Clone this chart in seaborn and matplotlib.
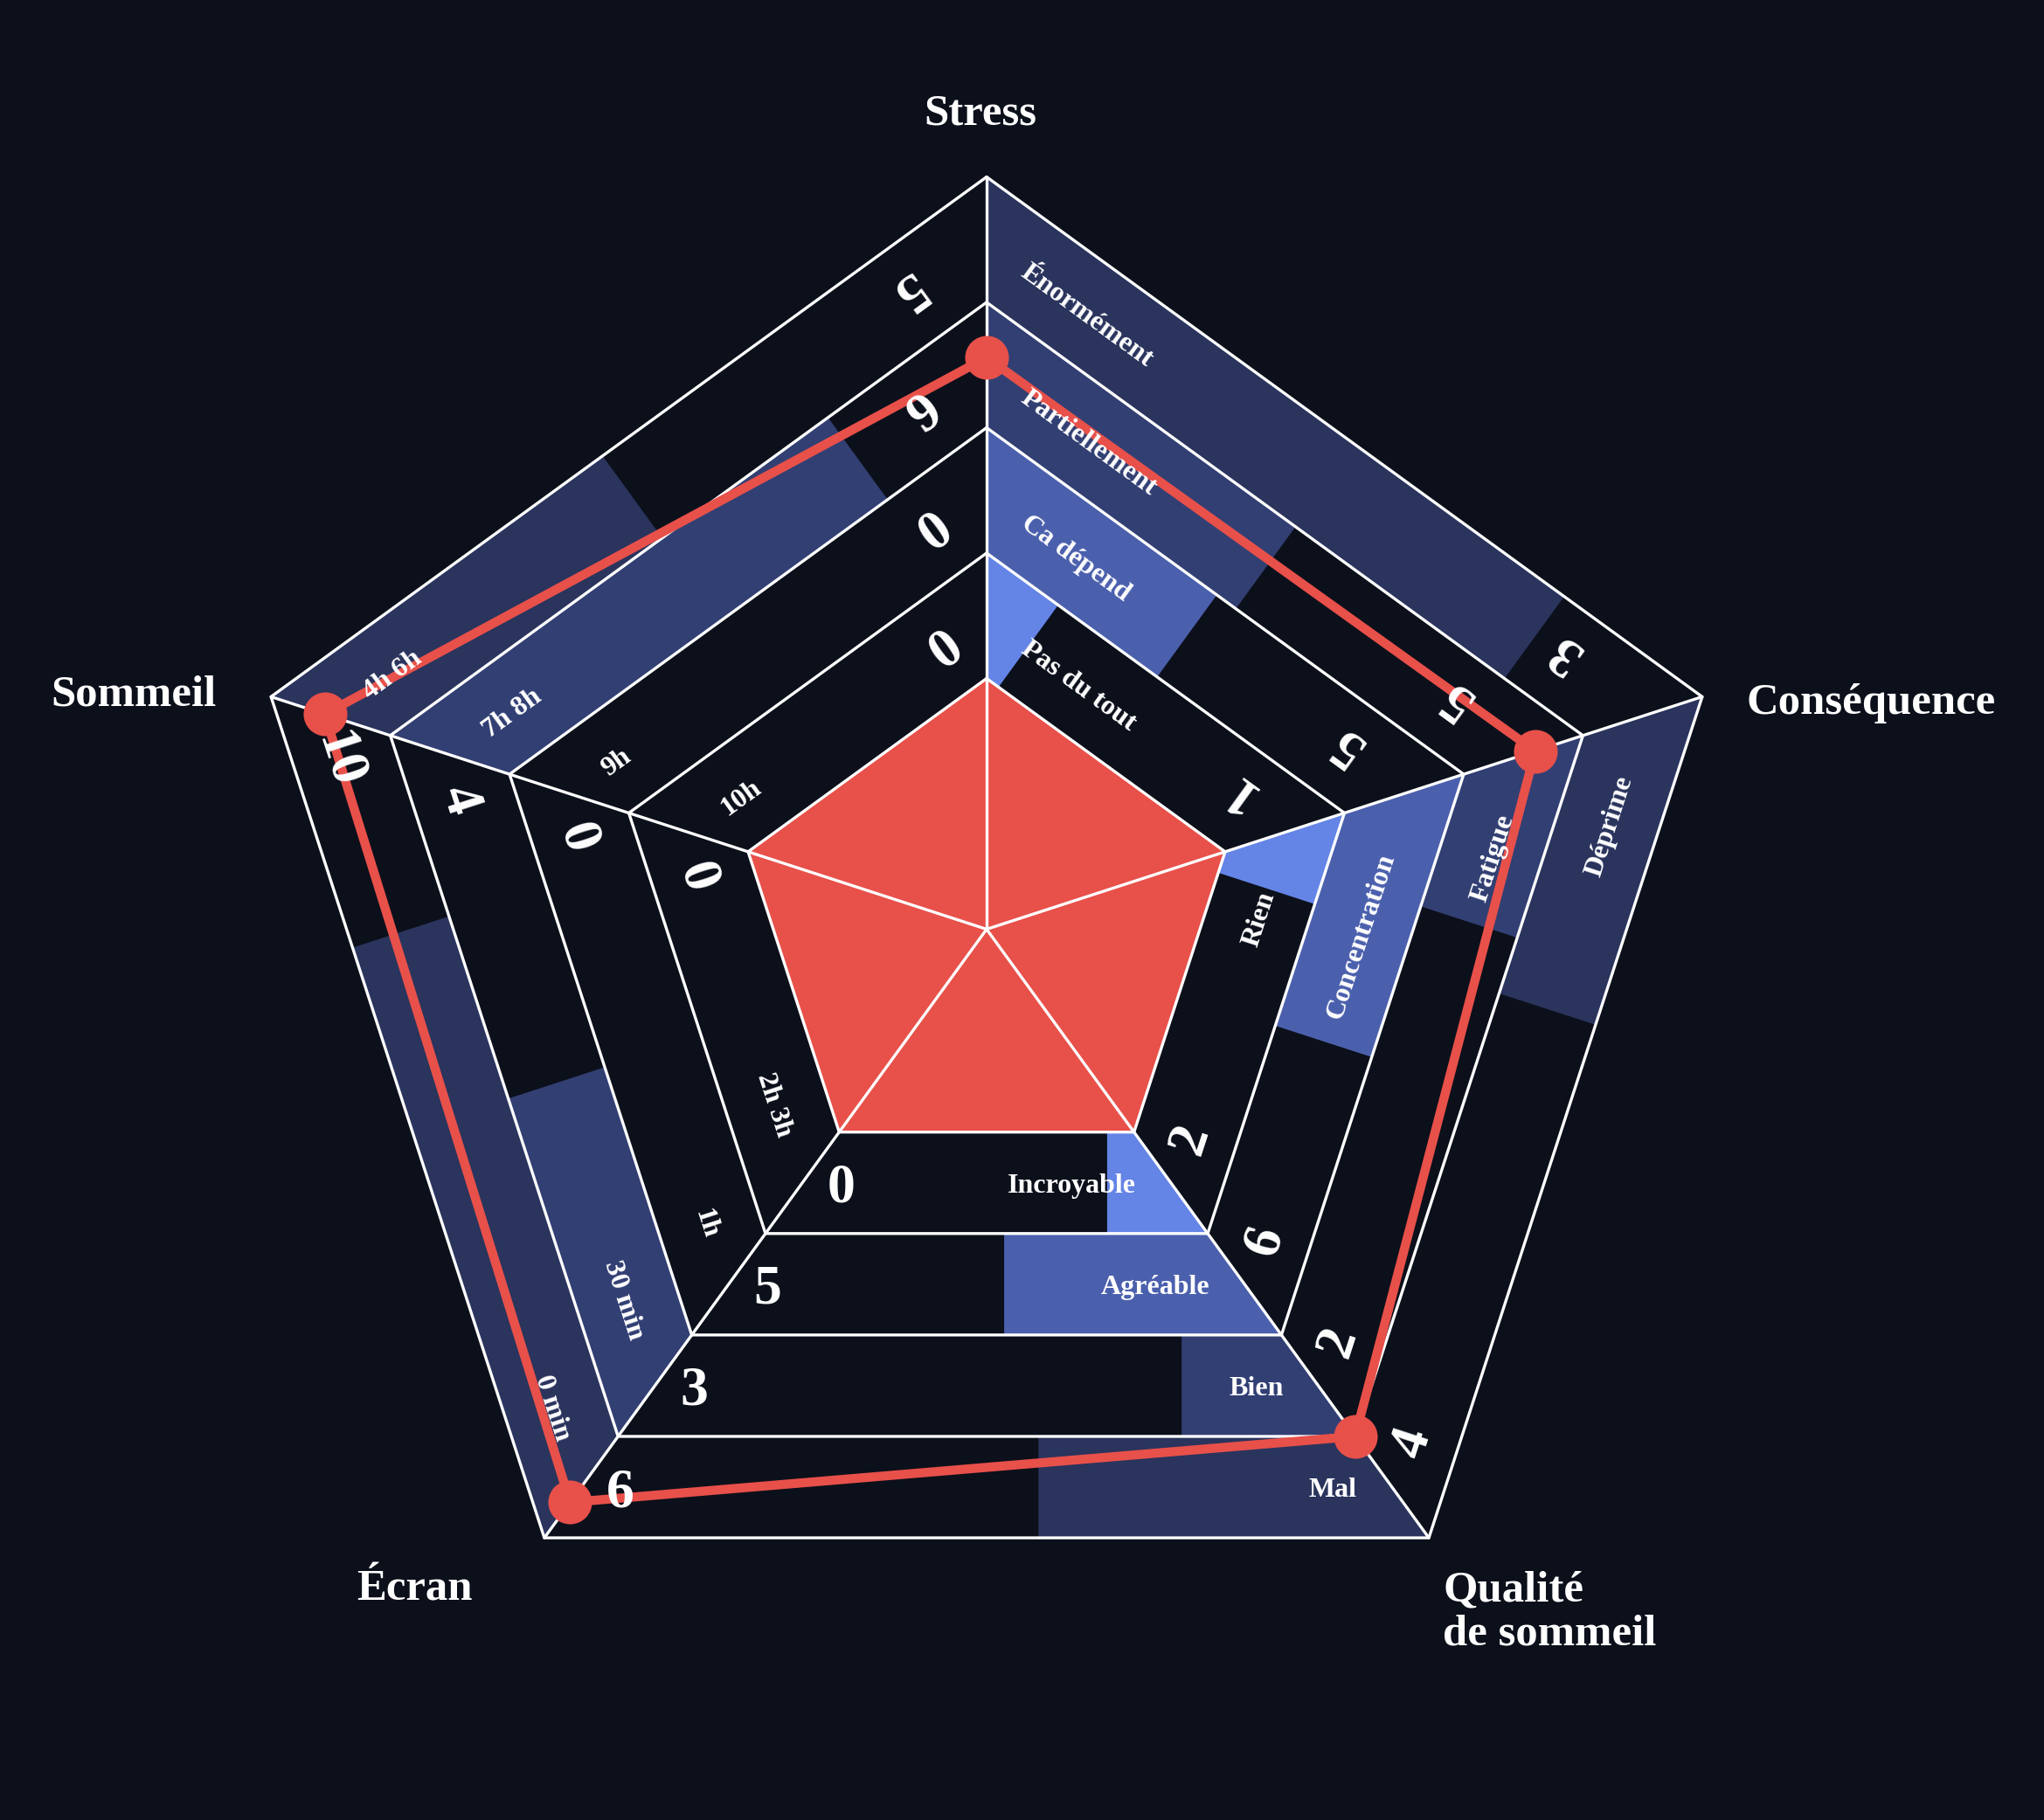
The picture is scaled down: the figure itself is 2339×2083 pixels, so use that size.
import numpy as np
import pandas as pd
import seaborn as sns
import matplotlib.pyplot as plt

# axes of the radar, clockwise from the top
axis_names = ["Stress", "Conséquence", "Qualité\nde sommeil", "Écran", "Sommeil"]
axis_angles = [90, 18, -54, -126, -198]

# answers of each wedge, inner band -> outer band
stress_labels = ["Pas du tout", "Ca dépend", "Partiellement", "Énormément"]
stress_counts = ["1", "5", "5", "3"]
stress_fill = [0.14, 0.48, 0.52, 0.835]

consequence_labels = ["Rien", "Concentration", "Fatigue", "Déprime"]
consequence_counts = ["2", "6", "2", "4"]
consequence_fill = [0.16, 0.505, 0.265, 0.38]

qualite_labels = ["Incroyable", "Agréable", "Bien", "Mal"]
qualite_counts = ["0", "5", "3", "6"]
qualite_fill = [0.173, 0.466, 0.206, 0.436]

ecran_labels = ["2h 3h", "1h", "30 min", "0 min"]
ecran_counts = ["0", "0", "4", "10"]
ecran_fill = [0, 0, 0.48, 0.72]

sommeil_labels = ["10h", "9h", "7h 8h", "4h 6h"]
sommeil_counts = ["0", "0", "6", "5"]
sommeil_fill = [0, 0, 0.76, 0.46]

# red profile, position on each axis
profile = [4.56, 4.6, 5.0, 5.65, 5.55]

ring_levels = [2, 3, 4, 5, 6]

wedges = [
    (stress_labels, stress_counts, stress_fill),
    (consequence_labels, consequence_counts, consequence_fill),
    (qualite_labels, qualite_counts, qualite_fill),
    (ecran_labels, ecran_counts, ecran_fill),
    (sommeil_labels, sommeil_counts, sommeil_fill),
]

# style
bg = "#0c101b"
red = "#e8504a"
band_colors = ["#6484e6", "#4b60ad", "#323f73", "#2a345d"]
label_rot = [-36, 72, 0, -72, 36]
num_rot = [144, 72, 0, -72, -144]
label_ha = ["left", "right", "right", "right", "left"]
label_gap = [0.38, 0.5, 0.28, 0.4, 0.33]
num_gap = [0.5, 0.38, 0.31, 0.36, 0.45]

sns.set_theme(style="dark", rc={"axes.facecolor": bg, "figure.facecolor": bg})
plt.rcParams["font.family"] = ["Liberation Serif", "DejaVu Serif"]


def pt(r, a):
    t = np.deg2rad(a)
    return np.array([r * np.cos(t), r * np.sin(t)])


def clip(poly, cut, d):
    #keep the part of poly before the cut line (perpendicular to d)
    out = []
    n = len(poly)
    for i in range(n):
        p, q = poly[i], poly[(i + 1) % n]
        sp, sq = np.dot(p - cut, d), np.dot(q - cut, d)
        if sp <= 0:
            out.append(p)
        if sp * sq < 0:
            out.append(p + sp / (sp - sq) * (q - p))
    return np.array(out)


W, H, unit = 2339, 2083, 143.5
cx, cy = 1129, 1063.5
fig = plt.figure(figsize=(W / 100, H / 100), dpi=100)
ax = fig.add_axes([0, 0, 1, 1])
ax.set_xlim(-cx / unit, (W - cx) / unit)
ax.set_ylim(-(H - cy) / unit, cy / unit)
ax.set_aspect("equal")
ax.axis("off")

# bars inside each band
for w, (labels, counts, fills) in enumerate(wedges):
    a0 = axis_angles[w]
    a1 = a0 - 72
    for b in range(4):
        r_in, r_out = ring_levels[b], ring_levels[b + 1]
        A, B, C, D = pt(r_in, a0), pt(r_out, a0), pt(r_out, a1), pt(r_in, a1)
        d = (D - A) / np.linalg.norm(D - A)
        m0, m1 = (A + B) / 2, (C + D) / 2
        if fills[b] > 0:
            cut = m0 + fills[b] * (m1 - m0)
            poly = clip(np.array([A, B, C, D]), cut, d)
            ax.fill(poly[:, 0], poly[:, 1], color=band_colors[b], lw=0, zorder=1)
        # answer label near the start spoke
        lp = m0 + label_gap[w] * d
        ax.text(lp[0], lp[1], labels[b], rotation=label_rot[w], rotation_mode="anchor",
                ha=label_ha[w], va="center_baseline", color="white", fontsize=23,
                fontweight="bold", zorder=6)
        # count near the end spoke
        npnt = m1 - (num_gap[w] + (0.1 * b if w in (0, 4) else 0)) * d
        ax.text(npnt[0], npnt[1], counts[b], rotation=num_rot[w], rotation_mode="anchor",
                ha="center", va="center_baseline", color="white", fontsize=46,
                fontweight="bold", zorder=6)

# red centre
inner = np.array([pt(2, a) for a in axis_angles])
ax.fill(inner[:, 0], inner[:, 1], color=red, lw=0, zorder=2)

# grid
for r in ring_levels:
    ring = np.array([pt(r, a) for a in axis_angles + [axis_angles[0]]])
    ax.plot(ring[:, 0], ring[:, 1], color="white", lw=2.4, zorder=3)
for a in axis_angles:
    tip = pt(ring_levels[-1], a)
    ax.plot([0, tip[0]], [0, tip[1]], color="white", lw=2.4, zorder=3)

# red profile
prof = pd.DataFrame([pt(r, a) for r, a in zip(profile, axis_angles)], columns=["x", "y"])
loop = pd.concat([prof, prof.iloc[:1]], ignore_index=True)
sns.lineplot(data=loop, x="x", y="y", sort=False, estimator=None, color=red,
             linewidth=7.5, ax=ax, zorder=4)
sns.scatterplot(data=prof, x="x", y="y", color=red, s=1300, linewidth=0, ax=ax, zorder=5)
ax.set_xlabel("")
ax.set_ylabel("")

# axis titles
title_pos = [(-0.05, 6.50, "center"), (6.06, 1.80, "left"), (3.64, -5.45, "left"),
             (-4.56, -5.27, "center"), (-6.14, 1.87, "right")]
for name, (x, y, ha) in zip(axis_names, title_pos):
    ax.text(x, y, name, ha=ha, va="center", color="white", fontsize=36.5,
            fontweight="bold", linespacing=1.1, zorder=6)

fig.savefig("out.png", dpi=100, facecolor=bg)
